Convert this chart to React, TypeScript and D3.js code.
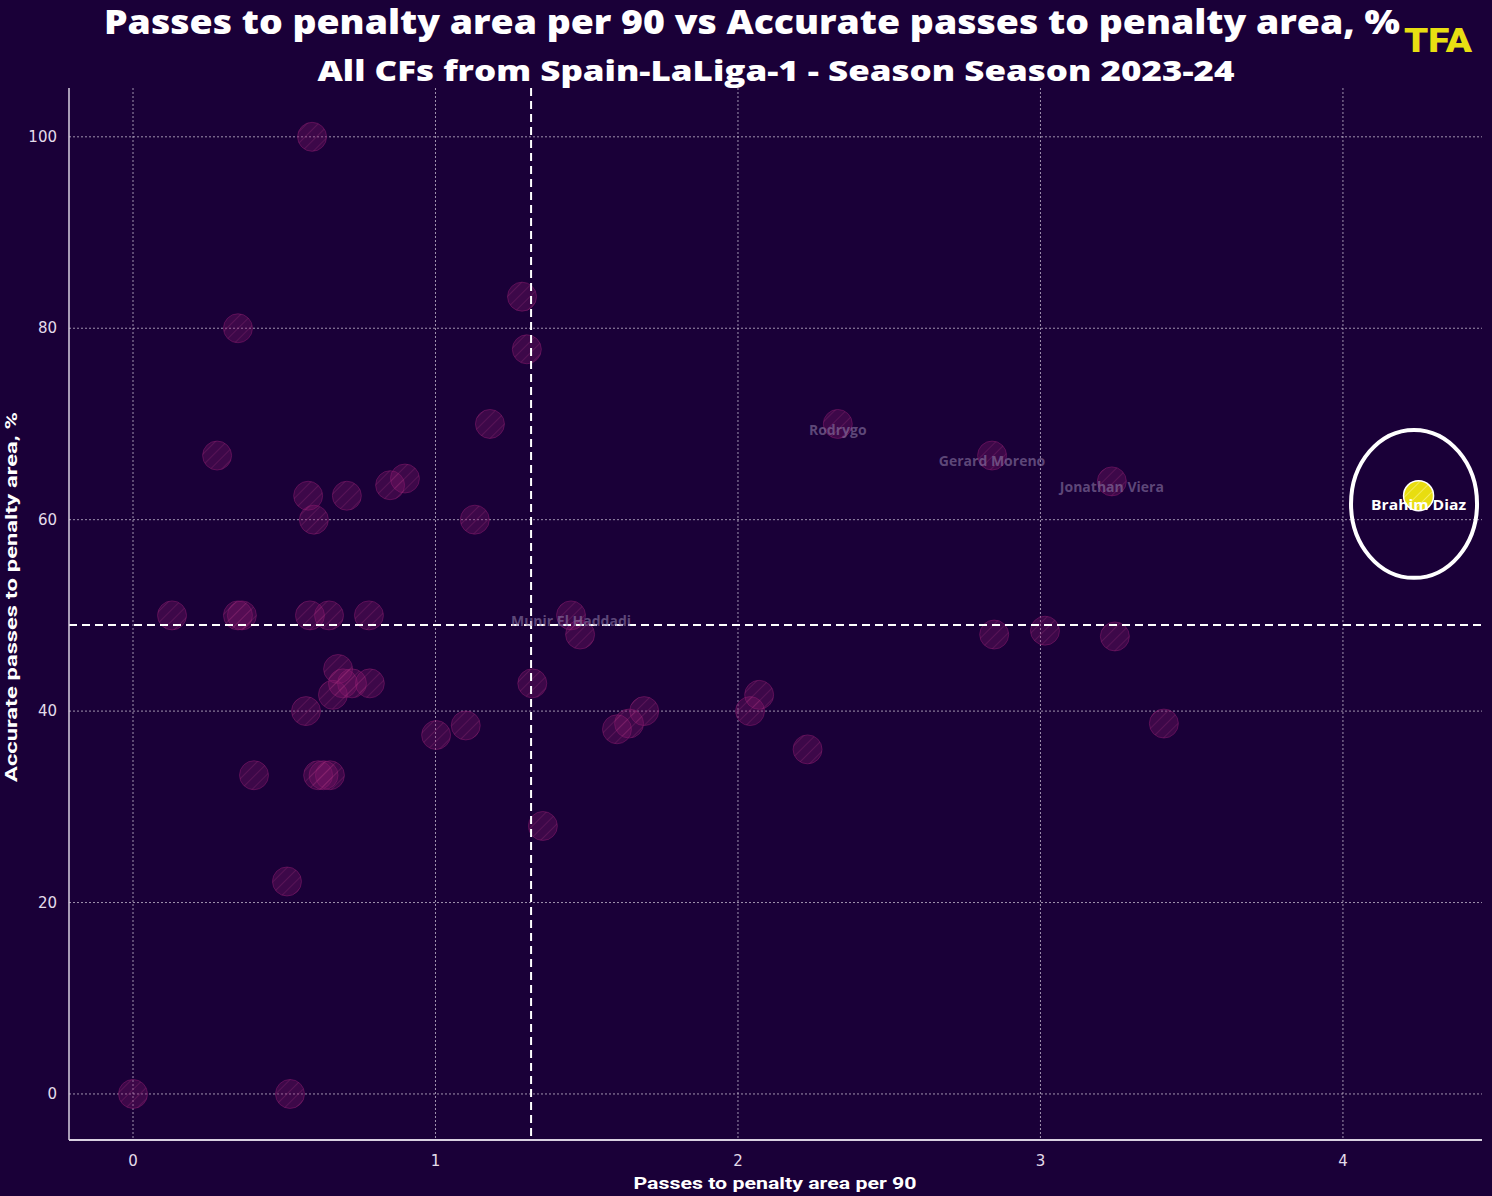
import React from "react";
import * as d3 from "d3";

const xVals = [0.592, 0.347, 1.286, 1.302, 1.18, 0.278, 0.579, 0.707, 0.598, 0.85, 0.899, 1.13, 0.129, 0.347, 0.36, 0.585, 0.648, 0.78, 1.448, 1.478, 0.678, 0.694, 0.724, 0.783, 0.661, 0.572, 1.002, 0.4, 0.612, 0.63, 0.651, 1.1, 1.32, 1.6, 1.64, 1.69, 1.355, 0.509, 0, 0.519, 2.04, 2.07, 2.23, 2.33, 2.84, 3.236, 2.847, 3.015, 3.246, 3.408];
const yVals = [100, 80, 83.3, 77.8, 70, 66.7, 62.5, 62.5, 60, 63.6, 64.3, 60, 50, 50, 50, 50, 50, 50, 50, 48, 44.4, 42.9, 42.9, 42.9, 41.7, 40, 37.5, 33.3, 33.3, 33.3, 33.3, 38.5, 42.9, 38.1, 38.7, 40, 28, 22.2, 0, 0, 40, 41.7, 36, 70, 66.7, 64, 48, 48.4, 47.8, 38.7];

const labelNames = ["Munir El Haddadi", "Rodrygo", "Gerard Moreno", "Jonathan Viera"];
const labelX = [1.448, 2.33, 2.84, 3.236];
const labelY = [50, 70, 66.7, 64];

const highlightName = "Brahim Diaz";
const highlightX = 4.25;
const highlightY = 62.5;

const meanX = 1.316;
const meanY = 49.0;

const xTicks = [0, 1, 2, 3, 4];
const yTicks = [0, 20, 40, 60, 80, 100];

const titleText = "Passes to penalty area per 90 vs Accurate passes to penalty area, %";
const subtitleText = "All CFs from Spain-LaLiga-1 - Season Season 2023-24";
const xLabel = "Passes to penalty area per 90";
const yLabel = "Accurate passes to penalty area, %";

const W = 1492;
const H = 1196;
const left = 69, right = 1482, top = 88, bottom = 1140;

export default function App() {
  const x = d3.scaleLinear().domain([-0.2116, 4.4597]).range([left, right]);
  const y = d3.scaleLinear().domain([-4.81, 105.1]).range([bottom, top]);
  const r = 14.5;
  const bg = "#1a0038";
  const labelColor = "rgba(140,120,165,0.6)";

  const ellCx = x(4.235), ellCy = y(61.65);
  const ellRx = x(4.235 + 0.2083) - x(4.235);
  const ellRy = y(61.65) - y(61.65 + 7.73);

  return (
    <div style={{ position: "absolute", left: 0, top: 0 }}>
      <svg width={W} height={H} style={{ display: "block", background: bg }}>
        <defs>
          <pattern id="hatch" patternUnits="userSpaceOnUse" width={8} height={8} patternTransform="rotate(45)">
            <line x1={0} y1={0} x2={0} y2={8} stroke="#a0307a" strokeWidth={1.2} strokeOpacity={0.45} />
          </pattern>
          <pattern id="hatchY" patternUnits="userSpaceOnUse" width={8} height={8} patternTransform="rotate(45)">
            <line x1={0} y1={0} x2={0} y2={8} stroke="#fffbb0" strokeWidth={1.2} strokeOpacity={0.8} />
          </pattern>
        </defs>
        <rect x={0} y={0} width={W} height={H} fill={bg} />

        {/* grid */}
        {xTicks.map((t) => (
          <line key={"gx" + t} x1={x(t)} x2={x(t)} y1={top} y2={bottom} stroke="#d8d0e0" strokeOpacity={0.7} strokeWidth={1} strokeDasharray="2,2" />
        ))}
        {yTicks.map((t) => (
          <line key={"gy" + t} x1={left} x2={right} y1={y(t)} y2={y(t)} stroke="#d8d0e0" strokeOpacity={0.7} strokeWidth={1} strokeDasharray="2,2" />
        ))}

        {/* points */}
        {xVals.map((v, i) => (
          <g key={"p" + i}>
            <circle cx={x(v)} cy={y(yVals[i])} r={r} fill="#8a1a6e" fillOpacity={0.32} stroke="#8a1a6e" strokeOpacity={0.5} strokeWidth={1} />
            <circle cx={x(v)} cy={y(yVals[i])} r={r} fill="url(#hatch)" />
          </g>
        ))}

        {/* mean lines */}
        <line x1={x(meanX)} x2={x(meanX)} y1={top} y2={bottom} stroke="#ffffff" strokeWidth={2} strokeDasharray="8,5" />
        <line x1={left} x2={right} y1={y(meanY)} y2={y(meanY)} stroke="#ffffff" strokeWidth={2} strokeDasharray="8,5" />

        {/* labels */}
        {labelNames.map((n, i) => (
          <text key={"l" + i} x={x(labelX[i])} y={y(labelY[i]) + 7} textAnchor="middle" dominantBaseline="middle" fontFamily="'Open Sans', sans-serif" fontWeight={700} fontSize={14} fill={labelColor}>{n}</text>
        ))}

        {/* highlight */}
        <circle cx={x(highlightX)} cy={y(highlightY)} r={15} fill="#e8dd10" stroke="#ffffff" strokeWidth={1.5} />
        <circle cx={x(highlightX)} cy={y(highlightY)} r={15} fill="url(#hatchY)" />
        <text x={x(highlightX)} y={y(highlightY) + 10} textAnchor="middle" dominantBaseline="middle" fontFamily="'Open Sans', sans-serif" fontWeight={700} fontSize={15} fill="#ffffff" textLength={95} lengthAdjust="spacingAndGlyphs">{highlightName}</text>
        <ellipse cx={ellCx} cy={ellCy} rx={ellRx} ry={ellRy} fill="none" stroke="#ffffff" strokeWidth={4} />

        {/* spines */}
        <line x1={left} x2={left} y1={top} y2={bottom} stroke="#d8d0e0" strokeWidth={1.5} />
        <line x1={left} x2={right} y1={bottom} y2={bottom} stroke="#d8d0e0" strokeWidth={2} />

        {/* tick labels */}
        {xTicks.map((t) => (
          <text key={"tx" + t} x={x(t)} y={1166} textAnchor="middle" fontFamily="'DejaVu Sans', sans-serif" fontSize={15} fill="#e4dcea">{t}</text>
        ))}
        {yTicks.map((t) => (
          <text key={"ty" + t} x={57} y={y(t) + 5} textAnchor="end" fontFamily="'DejaVu Sans', sans-serif" fontSize={15} fill="#e4dcea">{t}</text>
        ))}

        {/* axis labels */}
        <text x={775} y={1189} textAnchor="middle" fontFamily="Roboto, sans-serif" fontWeight={700} fontSize={17} fill="#ffffff" textLength={283} lengthAdjust="spacingAndGlyphs">{xLabel}</text>
        <text transform="translate(17,597) rotate(-90)" textAnchor="middle" fontFamily="Roboto, sans-serif" fontWeight={700} fontSize={17} fill="#ffffff" textLength={370} lengthAdjust="spacingAndGlyphs">{yLabel}</text>

        {/* titles */}
        <text x={752} y={34} textAnchor="middle" fontFamily="'Open Sans', sans-serif" fontWeight={800} fontSize={33} fill="#ffffff" textLength={1296} lengthAdjust="spacingAndGlyphs">{titleText}</text>
        <text x={776} y={81} textAnchor="middle" fontFamily="'Open Sans', sans-serif" fontWeight={800} fontSize={29} fill="#ffffff" textLength={917} lengthAdjust="spacingAndGlyphs">{subtitleText}</text>

        {/* logo */}
        <text x={1438} y={52} textAnchor="middle" fontFamily="Roboto, sans-serif" fontWeight={900} fontSize={34} fill="#e8df12" textLength={68} lengthAdjust="spacingAndGlyphs">TFA</text>
      </svg>
    </div>
  );
}
